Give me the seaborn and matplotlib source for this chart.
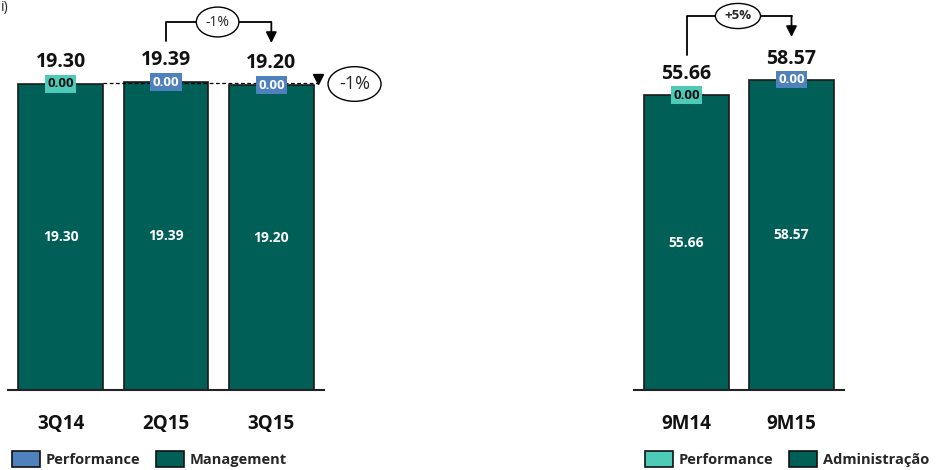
import matplotlib
matplotlib.use("Agg")
import matplotlib.pyplot as plt
from matplotlib.patches import Patch
import seaborn as sns
import pandas as pd
import numpy as np

# ---- data ----
q_categories = ["3Q14", "2Q15", "3Q15"]
q_management = [19.30, 19.39, 19.20]
q_performance = [0.00, 0.00, 0.00]
q_totals = [19.30, 19.39, 19.20]
q_change = "-1%"
q_change_prev = "-1%"

y_categories = ["9M14", "9M15"]
y_management = [55.66, 58.57]
y_performance = [0.00, 0.00]
y_totals = [55.66, 58.57]
y_change = "+5%"

DARK = "#005F57"
BLUE = "#4F81BD"
TEAL = "#4ECBB8"

sns.set_theme(style="white")
plt.rcParams["font.family"] = ["Open Sans", "DejaVu Sans"]

W, H = 939, 470
fig = plt.figure(figsize=(W / 100, H / 100), dpi=100)

def px_axes(x0, x1, ytop, ybot):
    return fig.add_axes([x0 / W, (H - ybot) / H, (x1 - x0) / W, (ybot - ytop) / H])

BASE = 390
axL = px_axes(8, 324, 10, BASE)
axR = px_axes(634, 844, 10, BASE)

sL = 15.87  # px per unit
sR = 5.30
axL.set_ylim(0, (BASE - 10) / sL)
axR.set_ylim(0, (BASE - 10) / sR)

dfL = pd.DataFrame({"cat": q_categories, "val": q_management})
dfR = pd.DataFrame({"cat": y_categories, "val": y_management})
sns.barplot(data=dfL, x="cat", y="val", ax=axL, color=DARK, saturation=1,
            width=0.806, edgecolor="#1a1a1a", linewidth=1.2)
sns.barplot(data=dfR, x="cat", y="val", ax=axR, color=DARK, saturation=1,
            width=0.81, edgecolor="#1a1a1a", linewidth=1.2)
axL.set_xlim(-0.5, 2.5)
axR.set_xlim(-0.5, 1.5)

for ax, cats in ((axL, q_categories), (axR, y_categories)):
    for s in ("top", "right", "left"):
        ax.spines[s].set_visible(False)
    ax.spines["bottom"].set_color("#222222")
    ax.spines["bottom"].set_linewidth(1.5)
    ax.set_xlabel("")
    ax.set_ylabel("")
    ax.set_yticks([])
    ax.set_xticks(range(len(cats)))
    ax.set_xticklabels([])
    ax.tick_params(axis="x", length=0)
    for i, c in enumerate(cats):
        ax.text(i, -34 / 380, c, transform=ax.get_xaxis_transform(),
                ha="center", va="center", fontsize=13.5, fontweight="bold",
                color="#111111")

def label_bars(ax, mgmt, perf, totals, scale, perf_colors, gap):
    for i, (m, p, t, pc) in enumerate(zip(mgmt, perf, totals, perf_colors)):
        ax.text(i, m / 2, f"{m:.2f}", ha="center", va="center", color="white",
                fontsize=10, fontweight="bold")
        tc = "white" if pc == BLUE else "#111111"
        ax.text(i, t, f"{p:.2f}", ha="center", va="center", color=tc,
                fontsize=9.5, fontweight="bold",
                bbox=dict(boxstyle="square,pad=0.18", fc=pc, ec="none"))
        ax.text(i, t + gap / scale, f"{t:.2f}", ha="center", va="center",
                fontsize=14, fontweight="bold", color="#111111")

label_bars(axL, q_management, q_performance, q_totals, sL, [TEAL, BLUE, BLUE], 22)
label_bars(axR, y_management, y_performance, y_totals, sR, [TEAL, BLUE], 21)

def py(ypx, scale):
    return (BASE - ypx) / scale

# left bracket 2Q15 -> 3Q15
yv0, yh, ytip = py(41, sL), py(22, sL), py(43, sL)
axL.plot([1, 1, 2], [yv0, yh, yh], color="black", lw=1.3, clip_on=False)
axL.annotate("", xy=(2, ytip), xytext=(2, yh),
             arrowprops=dict(arrowstyle="-|>", color="black", lw=1.3,
                             mutation_scale=16, shrinkA=0, shrinkB=0),
             annotation_clip=False)
axL.text(1.49, yh, q_change, ha="center", va="center", fontsize=10,
         bbox=dict(boxstyle="ellipse,pad=0.22", fc="white", ec="black", lw=1.0),
         clip_on=False)

# dashed line from 3Q14 to 3Q15 with triangle and ellipse
yd = py(83, sL)
axL.plot([0.403, 2.44], [yd, yd], color="black", lw=0.9, ls=(0, (3, 2)), clip_on=False)
axL.plot([2.44], [py(79, sL)], marker="v", color="black", ms=7.5, clip_on=False)
axL.text(2.79, py(84, sL), q_change_prev, ha="center", va="center", fontsize=13,
         bbox=dict(boxstyle="ellipse,pad=0.18", fc="white", ec="black", lw=1.0),
         clip_on=False)

# right bracket 9M14 -> 9M15
yv0, yh, ytip = py(55, sR), py(16, sR), py(37, sR)
axR.plot([0, 0, 1], [yv0, yh, yh], color="black", lw=1.3, clip_on=False)
axR.annotate("", xy=(1, ytip), xytext=(1, yh),
             arrowprops=dict(arrowstyle="-|>", color="black", lw=1.3,
                             mutation_scale=16, shrinkA=0, shrinkB=0),
             annotation_clip=False)
axR.text(0.49, yh, y_change, ha="center", va="center", fontsize=9.5,
         fontweight="bold",
         bbox=dict(boxstyle="ellipse,pad=0.18", fc="white", ec="black", lw=1.0),
         clip_on=False)

# legends
fs = 10.5
fpx = fs * 100 / 72
legkw = dict(frameon=False, ncol=2, handlelength=28 / fpx,
             handleheight=19 / fpx, handletextpad=6 / fpx, columnspacing=15 / fpx,
             borderpad=0, borderaxespad=0, loc="center left",
             prop=dict(weight="bold", size=fs))
hL = [Patch(fc=BLUE, ec="#111111", lw=1.2), Patch(fc=DARK, ec="#111111", lw=1.2)]
fig.legend(hL, ["Performance", "Management"],
           bbox_to_anchor=(12 / W, (H - 459) / H), **legkw)
hR = [Patch(fc=TEAL, ec="#111111", lw=1.2), Patch(fc=DARK, ec="#111111", lw=1.2)]
fig.legend(hR, ["Performance", "Administração"],
           bbox_to_anchor=(645 / W, (H - 459) / H), **legkw)

# header text fragment at top-left
fig.text(1 / W, (H - 7) / H, "i)", ha="left", va="center", fontsize=10)

fig.savefig("out.png", dpi=100)
